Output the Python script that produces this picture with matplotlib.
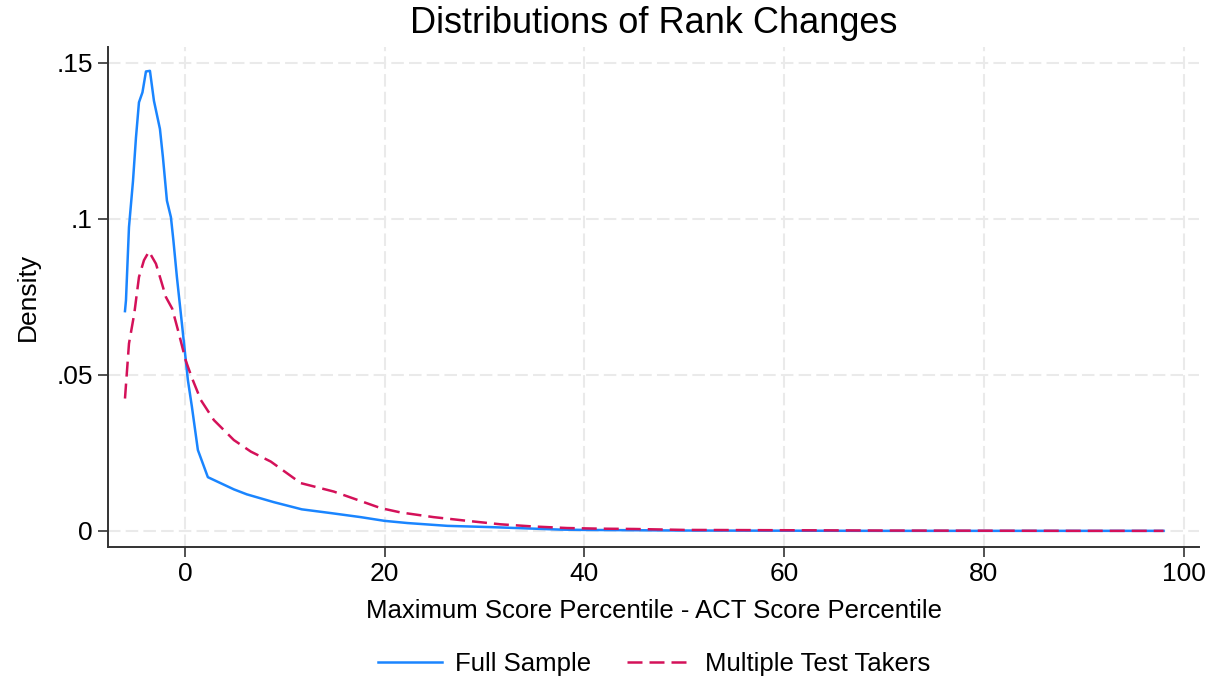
import matplotlib.pyplot as plt

plt.rcParams['font.family'] = ['Liberation Sans', 'DejaVu Sans']

# Kernel density estimates of percentile rank changes
full_x = [-6.0, -5.9, -5.6, -5.2, -4.9, -4.6, -4.25, -3.9, -3.5, -3.1, -2.5, -2.2,
          -1.8, -1.4, -1.15, -0.8, -0.3, 0.3, 0.7, 1.3, 2.3, 4.9, 6.2, 8.9, 11.7,
          14.6, 17.6, 20.0, 22.3, 26.3, 30.6, 37.6, 40, 45, 50, 60, 70, 80, 90, 98]
full_y = [0.0704, 0.0739, 0.0973, 0.112, 0.126, 0.1373, 0.1405, 0.1472, 0.1474,
          0.1378, 0.1288, 0.1197, 0.1058, 0.1005, 0.093, 0.0813, 0.0664, 0.0483,
          0.0398, 0.0259, 0.0172, 0.0133, 0.0117, 0.0092, 0.0069, 0.0057, 0.0044,
          0.0032, 0.0025, 0.0016, 0.0012, 0.0004, 0.0003, 0.0002, 0.0001, 0.00005,
          0.0, 0.0, 0.0, 0.0]

multi_x = [-6.0, -5.6, -5.07, -4.6, -4.1, -3.6, -2.9, -2.4, -1.9, -1.27, -0.6, 0.07,
           0.73, 1.6, 2.9, 4.9, 6.6, 8.6, 11.6, 14.9, 17.3, 19.6, 21.6, 24.9, 28.3,
           31.6, 34.9, 38.3, 41.6, 45, 50, 60, 70, 80, 90, 98]
multi_y = [0.0424, 0.060, 0.0696, 0.0813, 0.0867, 0.0895, 0.0856, 0.0803, 0.0749,
           0.0712, 0.0632, 0.0547, 0.0488, 0.0419, 0.0355, 0.0291, 0.0254, 0.0222,
           0.0153, 0.0126, 0.0099, 0.0073, 0.0059, 0.0044, 0.0032, 0.0021, 0.0014,
           0.0009, 0.0007, 0.0006, 0.0003, 0.0002, 0.0001, 0.00005, 0.0, 0.0]

xticks = [0, 20, 40, 60, 80, 100]
yticks = [0, 0.05, 0.1, 0.15]
ytick_labels = ['0', '.05', '.1', '.15']

fig = plt.figure(figsize=(12.19, 6.83), dpi=100)
ax = fig.add_axes([0.0886, 0.199, 0.8954, 0.732])

ax.plot(full_x, full_y, color='#1A85FF', linewidth=1.8, label='Full Sample')
ax.plot(multi_x, multi_y, color='#D41159', linewidth=1.8, dashes=(6, 2.8),
        label='Multiple Test Takers')

ax.set_xlim(-7.7, 101.6)
ax.set_ylim(-0.0052, 0.155)
ax.set_xticks(xticks)
ax.set_yticks(yticks)
ax.set_yticklabels(ytick_labels)
ax.tick_params(labelsize=19, length=7, width=1.2, color='#333333', pad=4)

ax.grid(True, color='#eaeaea', linewidth=1.5, dashes=(6, 2.5))
ax.set_axisbelow(True)
for side in ['top', 'right']:
    ax.spines[side].set_visible(False)
for side in ['left', 'bottom']:
    ax.spines[side].set_linewidth(1.4)
    ax.spines[side].set_color('#333333')

ax.set_xlabel('Maximum Score Percentile - ACT Score Percentile', fontsize=18.5, labelpad=9)
ax.set_ylabel('Density', fontsize=19, labelpad=12)
fig.text(0.5365, 0.966, 'Distributions of Rank Changes', ha='center', va='center', fontsize=26)

fig.legend(loc='center', bbox_to_anchor=(0.5365, 0.028), ncol=2, frameon=False,
           fontsize=18.5, handlelength=2.5, columnspacing=1.4, handletextpad=0.5)

fig.savefig('out.png', dpi=100)
